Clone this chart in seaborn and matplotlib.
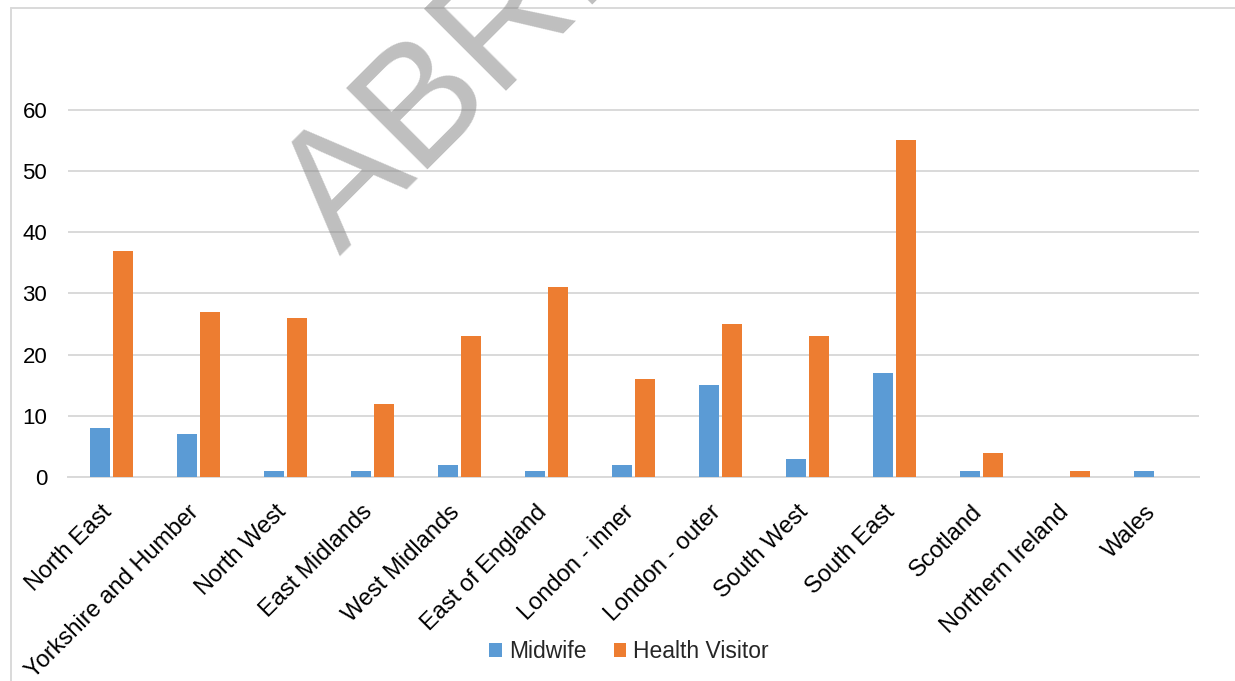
import matplotlib
matplotlib.use("Agg")
import matplotlib.pyplot as plt
import matplotlib.transforms as mtransforms
from matplotlib.lines import Line2D
from matplotlib.patches import Patch
import seaborn as sns
import pandas as pd

regions = ["North East", "Yorkshire and Humber", "North West", "East Midlands",
           "West Midlands", "East of England", "London - inner", "London - outer",
           "South West", "South East", "Scotland", "Northern Ireland", "Wales"]
midwife = [8, 7, 1, 1, 2, 1, 2, 15, 3, 17, 1, 0, 1]
health_visitor = [37, 27, 26, 12, 23, 31, 16, 25, 23, 55, 4, 1, 0]
series_names = ["Midwife", "Health Visitor"]
colors = ["#5B9BD5", "#ED7D31"]
y_ticks = [0, 10, 20, 30, 40, 50, 60]

df = pd.DataFrame({
    "region": regions * 2,
    "value": midwife + health_visitor,
    "role": [series_names[0]] * len(regions) + [series_names[1]] * len(regions),
})

sns.set_theme(style="white")
plt.rcParams["font.family"] = ["Liberation Sans", "DejaVu Sans"]

W, H = 1235, 681
fig = plt.figure(figsize=(W / 100, H / 100), dpi=100)
left, right, bottom, top = 68, 1199, 477, 48.6
ax = fig.add_axes([left / W, 1 - bottom / H, (right - left) / W, (bottom - top) / H])

sns.barplot(data=df, x="region", y="value", hue="role", palette=colors,
            width=0.517, gap=0.11, saturation=1, ax=ax, legend=False,
            linewidth=0, zorder=3)

ax.set_ylim(0, 70)
ax.set_xlim(-0.5, len(regions) - 0.5)
ax.set_yticks(y_ticks)
ax.yaxis.grid(True, color="#D9D9D9", linewidth=1.4, zorder=0)
ax.set_axisbelow(True)
for s in ["top", "right", "left"]:
    ax.spines[s].set_visible(False)
ax.spines["bottom"].set_color("#D9D9D9")
ax.spines["bottom"].set_linewidth(1.4)
ax.set_xlabel("")
ax.set_ylabel("")
ax.tick_params(axis="y", length=0, pad=15, labelsize=16, labelcolor="#000000")
ax.tick_params(axis="x", length=0, pad=23, labelsize=17, labelcolor="#000000")
offset = mtransforms.ScaledTranslation(-3 / 100, 0, fig.dpi_scale_trans)
for lbl in ax.get_xticklabels():
    lbl.set_rotation(45)
    lbl.set_ha("right")
    lbl.set_va("center")
    lbl.set_rotation_mode("anchor")
    lbl.set_transform(lbl.get_transform() + offset)

handles = [Patch(facecolor=c, edgecolor="none") for c in colors]
fig.legend(handles, series_names, loc="center", bbox_to_anchor=(629 / W, 1 - 652 / H),
           ncol=2, frameon=False, fontsize=16.5, handlelength=0.55, handleheight=0.55,
           handletextpad=0.3, columnspacing=1.2)

# outer chart frame (only left and top edges fall within the image)
fig.add_artist(Line2D([11 / W, 11 / W], [0, 1 - 8 / H], transform=fig.transFigure,
                      color="#D9D9D9", linewidth=1.4))
fig.add_artist(Line2D([11 / W, 1], [1 - 8 / H, 1 - 8 / H], transform=fig.transFigure,
                      color="#D9D9D9", linewidth=1.4))

# watermark
fig.text(340 / W, 1 - 257 / H, "ABRIDGED", rotation=45, rotation_mode="anchor",
         ha="left", va="baseline", fontsize=120, color="#808080", alpha=0.5,
         zorder=10)

fig.savefig("out.png", dpi=100)
